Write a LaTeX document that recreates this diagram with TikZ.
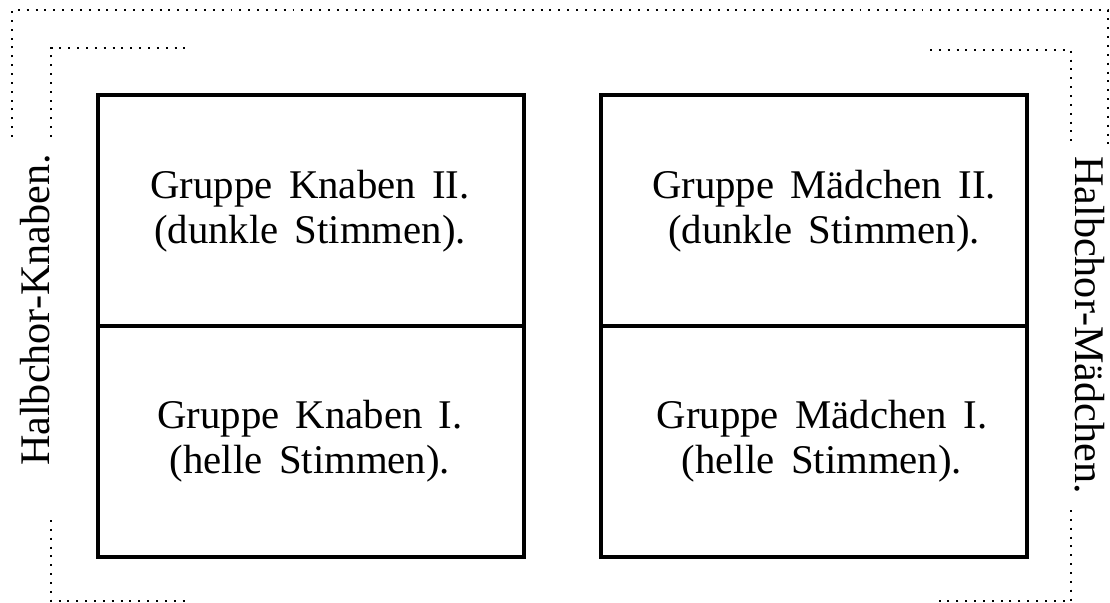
\documentclass[tikz,border=0pt]{standalone}
\usepackage{fontspec}
\setmainfont[WordSpace=1.6]{Liberation Serif}
\begin{document}
\begin{tikzpicture}[x=0.025cm,y=-0.025cm,
  chorbox/.style={line width=2.6pt},
  halb/.style={line width=1.4pt,dash pattern=on 1.4pt off 4.9pt},
  gruppe/.style={align=center,font=\fontsize{29}{32}\selectfont},
  seite/.style={font=\fontsize{30}{32}\selectfont}]
  \useasboundingbox (0,0) rectangle (1110,603);
  % dotted frames
  \draw[halb] (12,137) -- (12,10) -- (1108,10) -- (1108,150);
  \draw[halb] (51,137) -- (51,48) -- (190,48);
  \draw[halb] (51,520) -- (51,601) -- (190,601);
  \draw[halb] (930,50) -- (1071,50) -- (1071,145);
  \draw[halb] (1071,510) -- (1071,601) -- (935,601);
  % boxes
  \draw[chorbox] (98,95) rectangle (524,557);
  \draw[chorbox] (98,326) -- (524,326);
  \draw[chorbox] (601,95) rectangle (1027,557);
  \draw[chorbox] (601,326) -- (1027,326);
  \node[gruppe] (kII) at (310,211) {Gruppe Knaben II.\\(dunkle Stimmen).};
  \node[gruppe] (kI) at (310,441) {Gruppe Knaben I.\\(helle Stimmen).};
  \node[gruppe] (mII) at (824,211) {Gruppe Mädchen II.\\(dunkle Stimmen).};
  \node[gruppe] (mI) at (822,441) {Gruppe Mädchen I.\\(helle Stimmen).};
  \node[seite,rotate=90] (hk) at (35,310) {Halbchor-Knaben.};
  \node[seite,rotate=-90] (hm) at (1090,325) {Halbchor-Mädchen.};
\end{tikzpicture}
\end{document}
